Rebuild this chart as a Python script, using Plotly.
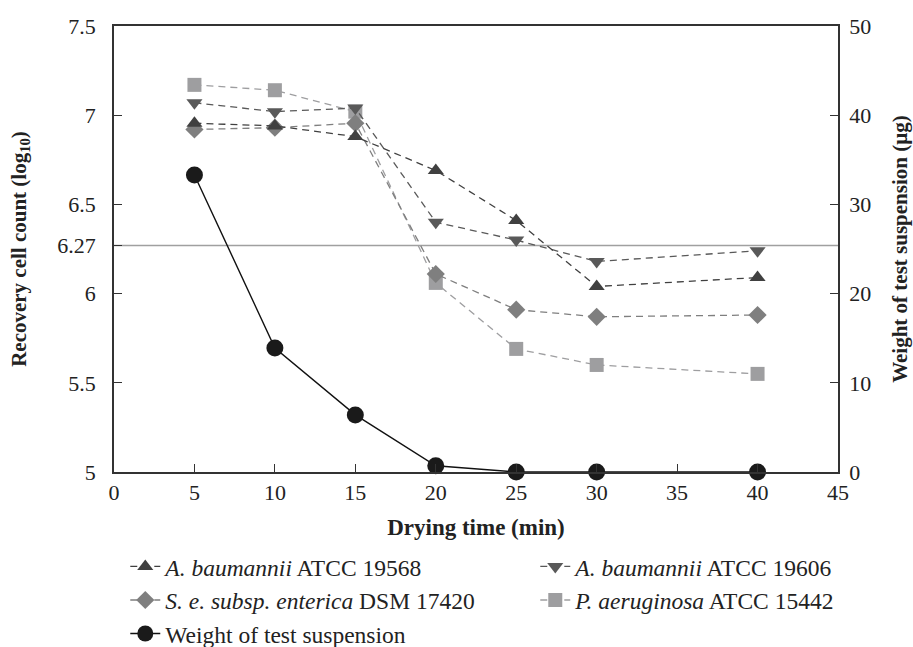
import plotly.graph_objects as go

# ---- data ----
drying_time = [5, 10, 15, 20, 25, 30, 40]
ab_19568 = [6.955, 6.94, 6.88, 6.69, 6.41, 6.04, 6.09]
ab_19606 = [7.07, 7.02, 7.04, 6.40, 6.30, 6.18, 6.24]
se_17420 = [6.92, 6.93, 6.955, 6.11, 5.91, 5.87, 5.88]
pa_15442 = [7.17, 7.14, 7.02, 6.06, 5.69, 5.60, 5.55]
weight_ug = [33.3, 13.9, 6.4, 0.7, 0.0, 0.0, 0.0]
threshold = 6.27

left_ticks = [5, 5.5, 6, 6.27, 6.5, 7, 7.5]
left_ticktext = ["5", "5.5", "6", "6.27", "6.5", "7", "7.5"]
right_ticks = [0, 10, 20, 30, 40, 50]
x_ticks = [0, 5, 10, 15, 20, 25, 30, 35, 40, 45]

FONT = "Liberation Serif"
AXC = "#333333"
TXT = "#222222"

fig = go.Figure()

series = [
    ("<i>P. aeruginosa</i> ATCC 15442", pa_15442, "square", "#9e9ea0", 14, 4),
    ("<i>S. e. subsp. enterica</i> DSM 17420", se_17420, "diamond", "#7f7f7f", 14, 3),
    ("<i>A. baumannii</i> ATCC 19606", ab_19606, "triangle-down", "#595959", 14, 2),
    ("<i>A. baumannii</i> ATCC 19568", ab_19568, "triangle-up", "#404040", 14, 1),
]
for name, vals, sym, col, size, rank in series:
    fig.add_trace(go.Scatter(
        x=drying_time, y=vals, name=name, mode="lines+markers",
        line=dict(color=col, width=1.3, dash="7px,5px"),
        marker=dict(symbol=sym, size=size, color=col),
        legendrank=rank, cliponaxis=False,
    ))

fig.add_trace(go.Scatter(
    x=drying_time, y=weight_ug, name="Weight of test suspension",
    mode="lines+markers", yaxis="y2",
    line=dict(color="#111111", width=1.4),
    marker=dict(symbol="circle", size=17, color="#1a1a1a"),
    legendrank=5, cliponaxis=False,
))

fig.add_shape(type="line", xref="paper", x0=0, x1=1, yref="y",
              y0=threshold, y1=threshold,
              line=dict(color="#a0a0a0", width=1.5), layer="below")

fig.update_layout(
    width=913, height=647,
    margin=dict(l=114, r=75, t=26, b=175, autoexpand=False),
    paper_bgcolor="white", plot_bgcolor="white",
    font=dict(family=FONT, size=22, color=TXT),
    showlegend=True,
    legend=dict(
        orientation="h", x=-0.001, xanchor="left", y=-0.136, yanchor="top",
        entrywidth=365, entrywidthmode="pixels",
        borderwidth=12, bordercolor="rgba(0,0,0,0)",
        font=dict(family=FONT, size=23.5, color=TXT),
        itemwidth=30, tracegroupgap=0, bgcolor="rgba(0,0,0,0)",
    ),
    xaxis=dict(
        range=[0, 45], tickvals=x_ticks, ticks="inside", ticklen=8,
        tickwidth=1.2, tickcolor=AXC, showline=True, linecolor=AXC,
        linewidth=1.5, mirror=True, showgrid=False, zeroline=False,
        tickfont=dict(family=FONT, size=22),
        title=dict(text="<b>Drying time (min)</b>", standoff=15,
                   font=dict(family=FONT, size=23, color=TXT)),
    ),
    yaxis=dict(
        range=[5, 7.5], tickvals=left_ticks, ticktext=left_ticktext,
        ticks="inside", ticklen=8, tickwidth=1.2, tickcolor=AXC,
        showline=True, linecolor=AXC, linewidth=1.5, showgrid=False,
        zeroline=False, tickfont=dict(family=FONT, size=22),
        ticklabelstandoff=12,
        title=dict(text="<b>Recovery cell count (log<sub>10</sub>)</b>",
                   standoff=25, font=dict(family=FONT, size=21, color=TXT)),
    ),
    yaxis2=dict(
        range=[0, 50], tickvals=right_ticks, overlaying="y", side="right",
        ticks="inside", ticklen=8, tickwidth=1.2, tickcolor=AXC,
        showline=True, linecolor=AXC, linewidth=1.5, showgrid=False,
        zeroline=False, tickfont=dict(family=FONT, size=22),
        ticklabelstandoff=5,
        title=dict(text="<b>Weight of test suspension (µg)</b>",
                   standoff=22, font=dict(family=FONT, size=21, color=TXT)),
    ),
)

fig.write_html(
    "out.html",
    config={"displayModeBar": False},
    post_script="document.body.style.margin='0';document.body.style.overflow='hidden';",
)
